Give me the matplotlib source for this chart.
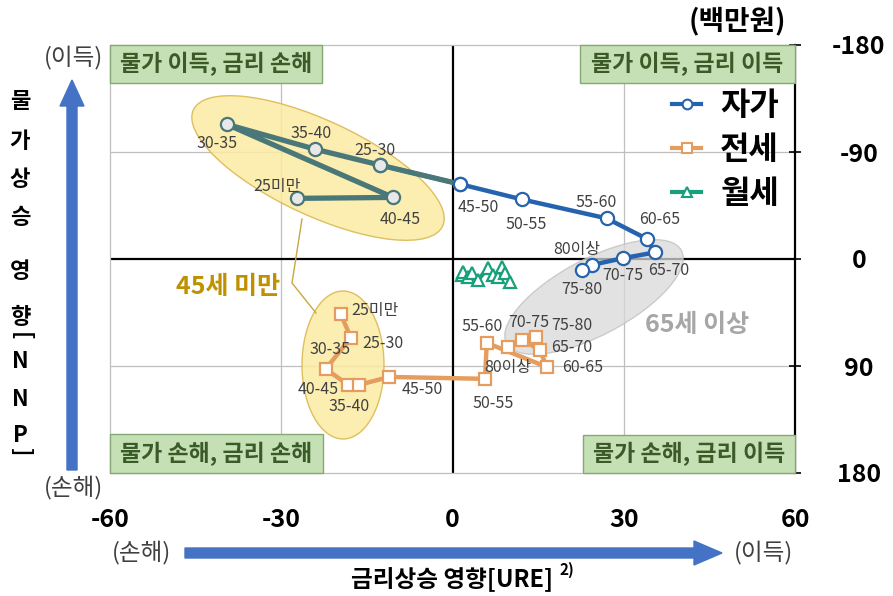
import matplotlib
matplotlib.use('Agg')
import matplotlib.pyplot as plt
from matplotlib.patches import Ellipse, Rectangle, FancyArrow
from matplotlib.lines import Line2D
from matplotlib.transforms import Affine2D

plt.rcParams['font.family'] = ['Noto Sans CJK KR', 'DejaVu Sans']

W, H = 893, 596

# ---------------- data ----------------
owner_labels = ['25미만', '40-45', '30-35', '35-40', '25-30', '45-50', '50-55',
                '55-60', '60-65', '65-70', '70-75', '75-80', '80이상']
owner_x = [-27.3, -10.4, -39.5, -24.1, -12.7, 1.3, 12.1, 27.0, 34.1, 35.4, 29.8, 24.4, 22.6]
owner_y = [-51.0, -51.8, -113.2, -92.4, -79.0, -63.0, -50.2, -34.2, -16.8, -5.5, -0.6, 5.0, 9.2]
n_young = 5  # points of the under-45 group

jeonse_labels = ['25미만', '25-30', '30-35', '35-40', '40-45', '45-50', '50-55',
                 '55-60', '60-65', '65-70', '70-75', '75-80', '80이상']
jeonse_x = [-19.6, -17.8, -22.2, -18.3, -16.4, -11.1, 5.7, 6.0, 16.5, 15.3, 12.2, 14.6, 9.7]
jeonse_y = [46.2, 66.1, 92.4, 105.9, 105.9, 99.2, 100.8, 70.6, 90.8, 76.5, 68.1, 65.5, 73.9]

wolse_x = [1.6, 1.8, 2.7, 3.4, 4.5, 6.2, 7.1, 8.0, 8.7, 9.2, 10.1]
wolse_y = [13.4, 10.9, 15.1, 11.8, 17.6, 7.6, 13.4, 15.1, 6.7, 11.8, 19.3]

series_names = ['자가', '전세', '월세']
x_ticks = [-60, -30, 0, 30, 60]
x_ticklabels = ['-60', '-30', '0', '30', '60']
y_ticks = [-180, -90, 0, 90, 180]
y_ticklabels = ['-180', '-90', '0', '90', '180']
quadrant_texts = ['물가 이득, 금리 손해', '물가 이득, 금리 이득',
                  '물가 손해, 금리 손해', '물가 손해, 금리 이득']

# label offsets (pixels)
owner_off = [(-20, 12), (7, -22), (-10, -19), (-4, 16), (-5, 15), (18, -23), (5, -25),
             (-10, 16), (13, 20), (14, -18), (0, -17), (-10, -25), (-5, 20)]
jeonse_off = [(34, 3), (32, -6), (4, 19), (1, -22), (-41, -5), (33, -13), (8, -25),
              (-5, 16), (36, -1), (32, 2), (7, 17), (36, 11), (0, -21)]

BLUE = '#2563AF'
TEAL = '#4A7878'
ORANGE = '#E59D5F'
GREEN = '#17A07A'
ARROW = '#4472C4'

fig = plt.figure(figsize=(W / 100, H / 100), dpi=100)
ax = fig.add_axes([110 / W, 1 - 473 / H, (795 - 110) / W, (473 - 45) / H])
pxT = Affine2D().scale(1 / W, 1 / H) + fig.transFigure


def P(x, y):
    return (x, H - y)


ax.set_xlim(-60, 60)
ax.set_ylim(180, -180)

# grid & zero lines
for gx in [-30, 30]:
    ax.axvline(gx, color='#BFBFBF', lw=0.9, zorder=0.5)
for gy in [-90, 90]:
    ax.axhline(gy, color='#BFBFBF', lw=0.9, zorder=0.5)
ax.axhline(0, color='black', lw=1.6, zorder=0.6)
ax.axvline(0, color='black', lw=1.6, zorder=0.6)

for s in ['left', 'top', 'bottom']:
    ax.spines[s].set_color('#BFBFBF')
    ax.spines[s].set_linewidth(0.9)
ax.spines['right'].set_color('black')
ax.spines['right'].set_linewidth(1.6)

ax.set_xticks(x_ticks)
ax.set_xticklabels(x_ticklabels, fontsize=18, fontweight='bold')
ax.tick_params(axis='x', length=0, pad=25)
ax.yaxis.tick_right()
ax.set_yticks(y_ticks)
ax.set_yticklabels(y_ticklabels, fontsize=18, fontweight='bold')
ax.tick_params(axis='y', direction='inout', length=8, width=1.2, pad=42)
for lab in ax.get_yticklabels():
    lab.set_horizontalalignment('center')

# ellipses (pixel space)
ax.add_patch(Ellipse(P(318, 168), 275, 95, angle=-25, transform=pxT,
                     facecolor='#FCEBA2', edgecolor='#D9B54A', lw=1.0, alpha=0.85, zorder=1))
ax.add_patch(Ellipse(P(343, 365), 82, 148, angle=0, transform=pxT,
                     facecolor='#FCEBA2', edgecolor='#D9B54A', lw=1.0, alpha=0.85, zorder=1))
ax.add_patch(Ellipse(P(594, 297), 198, 76, angle=28, transform=pxT,
                     facecolor='#D9D9D9', edgecolor='#BFBFBF', lw=1.0, alpha=0.75, zorder=1))
conn = Line2D([302, 292, 316], [H - 219, H - 283, H - 313], transform=pxT,
              color='#C9A640', lw=1.0, zorder=1.2)
ax.add_line(conn)
conn.set_clip_on(False)

# series
ax.plot(owner_x[n_young - 1:], owner_y[n_young - 1:], color=BLUE, lw=3.2, marker='o', ms=9.5,
        mfc='white', mec=BLUE, mew=1.6, zorder=3)
ax.plot(owner_x[:n_young], owner_y[:n_young], color=TEAL, lw=3.8, marker='o', ms=9.5,
        mfc='#E8E8E8', mec=TEAL, mew=1.6, zorder=3.5)
ax.plot(owner_x[n_young - 1:n_young + 1], owner_y[n_young - 1:n_young + 1], color=TEAL,
        lw=3.8, zorder=3.2, solid_capstyle='butt')
ax.plot(owner_x[n_young:n_young + 1], owner_y[n_young:n_young + 1], marker='o', ms=9.5,
        mfc='white', mec=BLUE, mew=1.6, zorder=3.6, lw=0)
ax.plot(jeonse_x, jeonse_y, color=ORANGE, lw=3.2, marker='s', ms=8.5,
        mfc='white', mec=ORANGE, mew=1.6, zorder=3)
ax.plot(wolse_x, wolse_y, color=GREEN, lw=3, marker='^', ms=8,
        mfc='white', mec=GREEN, mew=1.6, zorder=3)

for lab, x, y, off in zip(owner_labels, owner_x, owner_y, owner_off):
    ax.annotate(lab, (x, y), xytext=off, textcoords='offset pixels', ha='center',
                va='center', fontsize=11.5, color='#404040', zorder=6)
for lab, x, y, off in zip(jeonse_labels, jeonse_x, jeonse_y, jeonse_off):
    ax.annotate(lab, (x, y), xytext=off, textcoords='offset pixels', ha='center',
                va='center', fontsize=11.5, color='#404040', zorder=6)

ax.text(228, H - 287, '45세 미만', transform=pxT, ha='center', va='center',
        fontsize=18, fontweight='bold', color='#BF9000', zorder=6)
ax.text(697, H - 325, '65세 이상', transform=pxT, ha='center', va='center',
        fontsize=18, fontweight='bold', color='#A6A6A6', zorder=6)

# quadrant boxes
boxes = [(110, 45, 322, 83), (580, 45, 795, 83), (110, 434, 323, 473), (583, 435, 795, 473)]
for (x0, y0, x1, y1), t in zip(boxes, quadrant_texts):
    r = Rectangle((x0, H - y1), x1 - x0, y1 - y0, transform=pxT, facecolor='#C5E0B4',
                  edgecolor='#86A874', lw=1.0, zorder=7)
    r.set_clip_on(False)
    ax.add_patch(r)
    ax.text((x0 + x1) / 2, H - (y0 + y1) / 2, t, transform=pxT, ha='center', va='center',
            fontsize=16.5, fontweight='bold', color='#3A5A28', zorder=8)

# legend
handles = [
    Line2D([], [], color=BLUE, lw=3, marker='o', ms=7, mfc='white', mec=BLUE, mew=1.5),
    Line2D([], [], color=ORANGE, lw=3, marker='s', ms=7, mfc='white', mec=ORANGE, mew=1.5),
    Line2D([], [], color=GREEN, lw=3, marker='^', ms=7, mfc='white', mec=GREEN, mew=1.5),
]
leg = ax.legend(handles, series_names, loc='upper right', bbox_to_anchor=(779 / W, 1 - 90 / H),
                bbox_transform=fig.transFigure, frameon=False, borderpad=0, borderaxespad=0,
                handlelength=0.9, handletextpad=0.6, labelspacing=0.38,
                prop={'size': 23, 'weight': 'bold'})
leg.set_zorder(9)

# unit
fig.text(737 / W, 1 - 22 / H, '(백만원)', ha='center', va='center', fontsize=20,
         fontweight='bold')

# left side: arrow, labels
fig.patches.append(FancyArrow(72, H - 470, 0, 390, width=10, head_width=24, head_length=26,
                              length_includes_head=True, color=ARROW, transform=pxT))
fig.text(74 / W, 1 - 57 / H, '(이득)', ha='center', va='center', fontsize=17, color='#404040')
fig.text(74 / W, 1 - 487 / H, '(손해)', ha='center', va='center', fontsize=17, color='#404040')
v_chars = ['물', '가', '상', '승', '영', '향', '[', 'N', 'N', 'P', ']']
v_ys = [101, 141, 180, 218, 272, 318, 336, 362, 399, 435, 452]
for ch, yy in zip(v_chars, v_ys):
    rot = -90 if ch in '[]' else 0
    fig.text(20 / W, 1 - yy / H, ch, ha='center', va='center', fontsize=16,
             fontweight='bold', rotation=rot)

# bottom: arrow, labels
fig.patches.append(FancyArrow(185, H - 553, 537, 0, width=10, head_width=24, head_length=28,
                              length_includes_head=True, color=ARROW, transform=pxT))
fig.text(142 / W, 1 - 552 / H, '(손해)', ha='center', va='center', fontsize=17, color='#404040')
fig.text(764 / W, 1 - 552 / H, '(이득)', ha='center', va='center', fontsize=17, color='#404040')
fig.text(452 / W, 1 - 580 / H, '금리상승 영향[URE]', ha='center', va='center', fontsize=17,
         fontweight='bold')
fig.text(559 / W, 1 - 570 / H, '2)', ha='left', va='center', fontsize=11, fontweight='bold')

fig.savefig('out.png', dpi=100)
